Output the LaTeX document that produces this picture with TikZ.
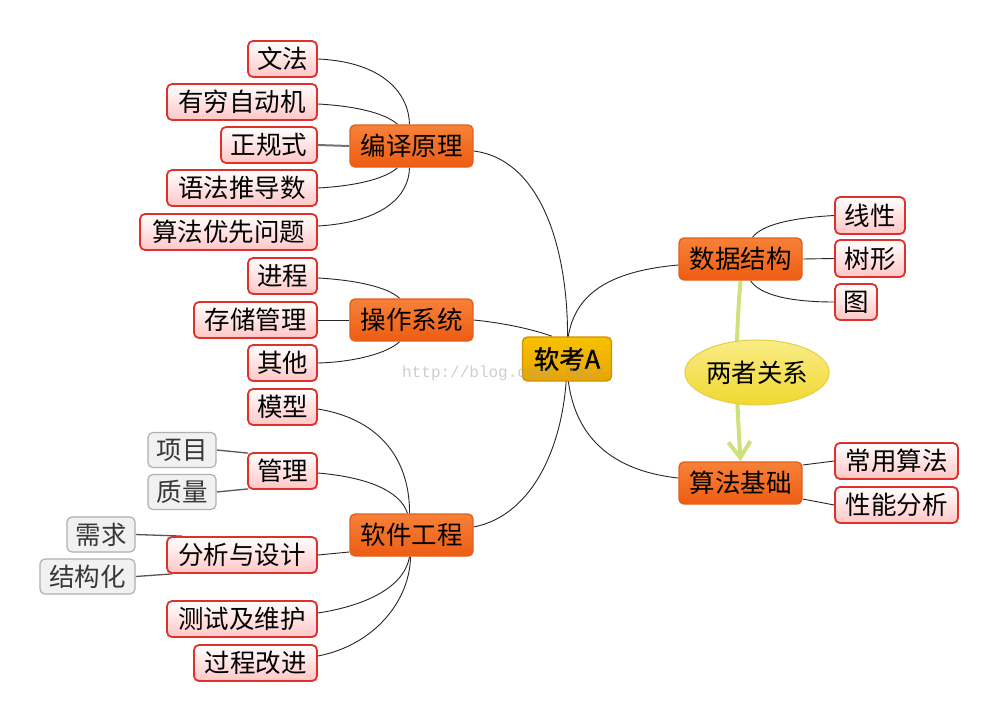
\documentclass[tikz,border=0pt]{standalone}
\usepackage{fontspec}
\setmainfont{Noto Sans CJK SC}
\setmonofont{Liberation Mono}
\usetikzlibrary{shapes.geometric,arrows.meta,backgrounds,calc}
\pgfdeclarelayer{paper}
\pgfsetlayers{paper,background,main}
\definecolor{leafborder}{HTML}{E0302A}
\definecolor{leaffill}{HTML}{FFC6C6}
\definecolor{brtop}{HTML}{F7813A}
\definecolor{brbot}{HTML}{EE5C12}
\definecolor{brborder}{HTML}{E2601C}
\definecolor{ctop}{HTML}{F7C200}
\definecolor{cbot}{HTML}{E8A400}
\definecolor{cborder}{HTML}{D09200}
\definecolor{eltop}{HTML}{F8EC86}
\definecolor{elbot}{HTML}{F1D830}
\definecolor{elborder}{HTML}{E6CF45}
\definecolor{arrowc}{HTML}{CDE27A}
\definecolor{gfill}{HTML}{F1F1F1}
\definecolor{gborder}{HTML}{B0B0B0}
\definecolor{gtext}{HTML}{383838}
\definecolor{linec}{HTML}{262626}
\definecolor{glinec}{HTML}{555555}
\begin{document}
\begin{tikzpicture}[x=1pt,y=-1pt,
  every node/.style={font=\fontsize{25.5}{30}\selectfont, inner sep=0pt, text=black},
  base/.style={rounded corners=5pt, align=center, minimum height=36pt},
  leaf/.style={base, draw=leafborder, line width=1.8pt, top color=white, bottom color=leaffill},
  branch/.style={base, minimum height=42pt, minimum width=123pt, draw=brborder, line width=1.4pt, top color=brtop, bottom color=brbot},
  hub/.style={base, minimum height=44pt, minimum width=89pt, draw=cborder, line width=1.4pt, top color=ctop, bottom color=cbot,
    font=\fontsize{25.5}{30}\selectfont\addfontfeature{FakeBold=1.2}},
  gbox/.style={base, minimum height=35pt, draw=gborder, line width=1.2pt, fill=gfill, text=gtext},
  ell/.style={ellipse, minimum width=142pt, minimum height=65pt, draw=elborder, line width=1pt, top color=eltop, bottom color=elbot},
  conn/.style={draw=linec, line width=0.9pt},
  gconn/.style={draw=glinec, line width=1.3pt},
  rel/.style={draw=arrowc, line width=4pt, -{Straight Barb[length=16pt,width=22pt]}},
  wmark/.style={font=\fontsize{16}{16}\selectfont\ttfamily, text=black!35, opacity=0.55, anchor=base west}
]
\useasboundingbox (0,0) rectangle (997,720);
\begin{pgfonlayer}{paper}
  \fill[white] (0,0) rectangle (997,720);
\end{pgfonlayer}

% hub
\node[hub] (c) at (567,359) {软考A};
% 编译原理
\node[branch] (by) at (411.5,146) {编译原理};
\node[leaf,minimum width=69pt] (wf) at (282.5,59) {文法};
\node[leaf,minimum width=150pt] (yq) at (242,102) {有穷自动机};
\node[leaf,minimum width=96pt] (zg) at (269,145) {正规式};
\node[leaf,minimum width=150pt] (yf) at (242,188) {语法推导数};
\node[leaf,minimum width=177pt] (sf) at (228.5,232) {算法优先问题};
% 操作系统
\node[branch] (cz) at (411.5,320) {操作系统};
\node[leaf,minimum width=69pt] (jc) at (282.5,276) {进程};
\node[leaf,minimum width=123pt] (cc) at (255.5,320) {存储管理};
\node[leaf,minimum width=69pt] (qt) at (282.5,363) {其他};
% 软件工程
\node[branch] (rj) at (411.5,535) {软件工程};
\node[leaf,minimum width=69pt] (mx) at (282.5,407) {模型};
\node[leaf,minimum width=69pt] (gl) at (282.5,471) {管理};
\node[gbox,minimum width=68pt] (xm) at (182,450) {项目};
\node[gbox,minimum width=68pt] (zl) at (182,492) {质量};
\node[leaf,minimum width=150pt] (fx) at (242,555) {分析与设计};
\node[gbox,minimum width=68pt] (xq) at (101,534.5) {需求};
\node[gbox,minimum width=95pt] (jg) at (87.5,576.5) {结构化};
\node[leaf,minimum width=150pt] (cs) at (242,619) {测试及维护};
\node[leaf,minimum width=123pt] (gc) at (255.5,663) {过程改进};
% 数据结构
\node[branch] (sj) at (740.5,259) {数据结构};
\node[leaf,minimum width=70pt,minimum height=37pt] (xx) at (870,215.5) {线性};
\node[leaf,minimum width=70pt,minimum height=37pt] (sx) at (870,258.5) {树形};
\node[leaf,minimum width=42pt] (tu) at (856,302) {图};
% relation
\node[ell] (gx) at (757,372.5) {两者关系};
% 算法基础
\node[branch] (jb) at (740.5,483) {算法基础};
\node[leaf,minimum width=123pt] (cy) at (896.5,461) {常用算法};
\node[leaf,minimum width=123pt] (xn) at (896.5,505) {性能分析};

\begin{scope}[on background layer]
  % main branches
  \draw[conn] ($(by.east)+(0,5)$) .. controls (545,160) and (572,260) .. (c.center);
  \draw[conn] (cz.east) .. controls (505,323) and (535,330) .. ($(c.north)+(-15,0)$);
  \draw[conn] ($(rj.east)+(0,-8)$) .. controls (535,515) and (567,440) .. (c.center);
  \draw[conn] ($(sj.west)+(0,6)$) .. controls (600,272) and (565,300) .. (c.center);
  \draw[conn] ($(jb.west)+(0,-5)$) .. controls (605,470) and (567,430) .. (c.center);
  % 编译原理 children
  \draw[conn] (wf.east) .. controls (385,62) and (409,95) .. ($(by.north)+(-2,0)$);
  \draw[conn] ($(yq.east)+(0,2)$) .. controls (355,106) and (385,113) .. ($(by.north)+(-14,0)$);
  \draw[gconn,draw=black!55,line width=2pt] (zg.east) -- (by.west);
  \draw[conn] (yf.east) .. controls (355,186) and (385,179) .. ($(by.south)+(-14,0)$);
  \draw[conn] ($(sf.east)+(0,-6)$) .. controls (385,222) and (409,195) .. ($(by.south)+(-2,0)$);
  % 操作系统 children
  \draw[conn] ($(jc.east)+(0,2)$) .. controls (355,280) and (388,287) .. ($(cz.north)+(-12,0)$);
  \draw[conn] (cc.east) -- (cz.west);
  \draw[conn] (qt.east) .. controls (355,362) and (388,353) .. ($(cz.south)+(-12,0)$);
  % 软件工程 children
  \draw[conn] ($(mx.east)+(0,2)$) .. controls (385,420) and (410,465) .. ($(rj.north)+(-2,0)$);
  \draw[conn] ($(gl.east)+(0,2)$) .. controls (365,477) and (400,490) .. ($(rj.north)+(-4,0)$);
  \draw[conn] (fx.east) -- ($(rj.west)+(0,17)$);
  \draw[conn] ($(cs.east)+(0,-6)$) .. controls (370,605) and (405,585) .. ($(rj.south)+(-2,0)$);
  \draw[conn] ($(gc.east)+(0,-7)$) .. controls (375,645) and (410,600) .. ($(rj.south)+(-1,0)$);
  % grey leaves
  \draw[gconn] (xm.east) -- ($(gl.north west)+(1,1)$);
  \draw[gconn] (zl.east) -- ($(gl.south west)+(1,-1)$);
  \draw[gconn] (xq.east) -- ($(fx.north west)+(16,0)$);
  \draw[gconn] (jg.east) -- ($(fx.south west)+(6,0)$);
  % 数据结构 children
  \draw[conn] (xx.west) .. controls (790,218) and (762,225) .. ($(sj.north)+(12,0)$);
  \draw[conn] (sx.west) -- (sj.east);
  \draw[conn] (tu.west) .. controls (790,302) and (760,295) .. ($(sj.south)+(10,0)$);
  % 算法基础 children
  \draw[conn] (cy.west) -- ($(jb.east)+(0,-18)$);
  \draw[conn] (xn.west) -- ($(jb.east)+(0,16)$);
  % relation arrow
  \draw[rel] (sj.south) .. controls (734,360) and (737,400) .. (jb.north);
\end{scope}

% watermark
\node[wmark] (wm) at (402,377) {http://blog.csdn.net/};
\end{tikzpicture}
\end{document}
